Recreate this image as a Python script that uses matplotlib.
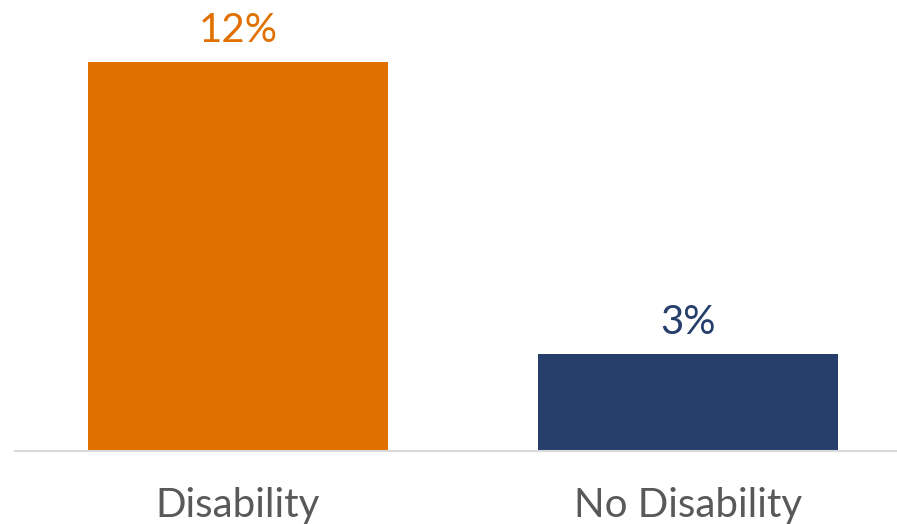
import matplotlib
matplotlib.use("Agg")
import matplotlib.pyplot as plt
from matplotlib.transforms import offset_copy

categories = ["Disability", "No Disability"]
values = [12, 3]
value_labels = ["12%", "3%"]
colors = ["#E07000", "#253E6A"]

plt.rcParams['font.family'] = ['Lato', 'DejaVu Sans']

W, H = 897, 524
fig = plt.figure(figsize=(W / 100, H / 100), dpi=100)
left_px, right_px = 15, 897
bottom_px, top_px = 73, 514
ax = fig.add_axes([left_px / W, bottom_px / H, (right_px - left_px) / W, (top_px - bottom_px) / H])

x = list(range(len(categories)))
ax.bar(x, values, width=0.6667, color=colors)
ax.set_xlim(-0.4956, 1.4644)
ax.set_ylim(0, 12 * 441 / 389)

for xi, v, lab, c in zip(x, values, value_labels, colors):
    ax.annotate(lab, xy=(xi, v), xytext=(0, 20), textcoords="offset points" if False else "offset pixels",
                ha="center", va="baseline", fontsize=29, color=c)

for s in ["top", "right", "left"]:
    ax.spines[s].set_visible(False)
ax.spines["bottom"].set_color("#D9D9D9")
ax.spines["bottom"].set_linewidth(1.5)
ax.set_yticks([])
ax.set_xticks(x)
ax.set_xticklabels(categories, fontsize=29, color="#595959")
ax.tick_params(axis="x", length=0, pad=26)

fig.savefig("out.png", dpi=100)
